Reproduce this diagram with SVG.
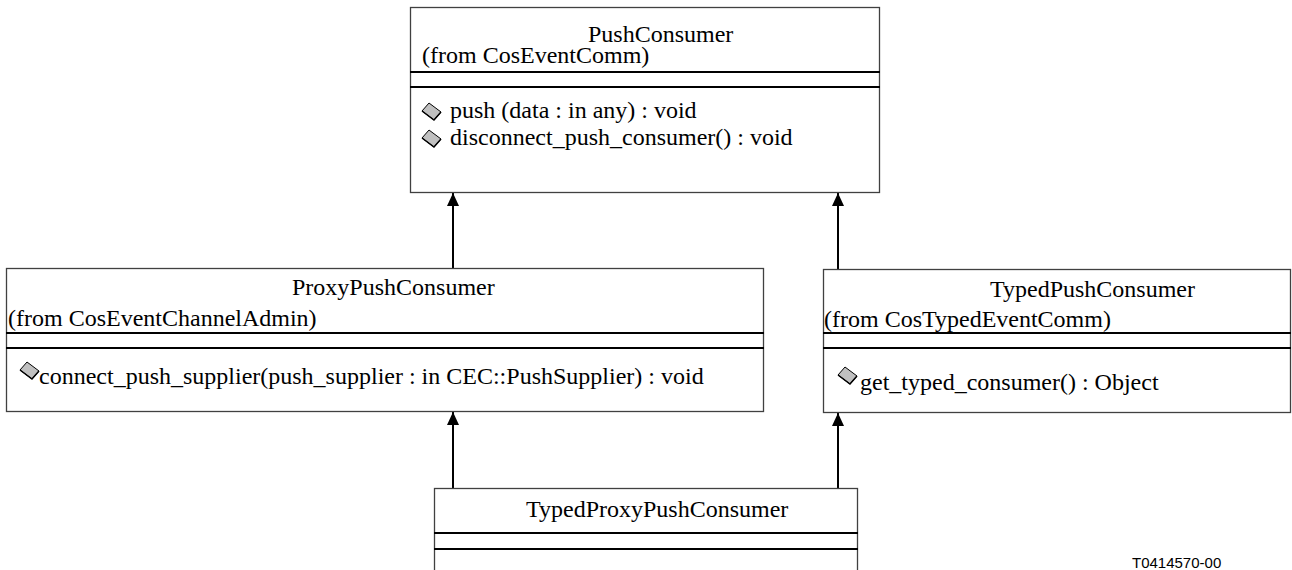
<svg xmlns="http://www.w3.org/2000/svg" xmlns:xlink="http://www.w3.org/1999/xlink" width="1292" height="570" viewBox="0 0 1292 570">
<style>
.box{fill:#fff;stroke:#404040;stroke-width:1.3}
.sep{stroke:#000;stroke-width:2.2}
.t{font-size:24px;fill:#000}
.con{stroke:#000;stroke-width:2;fill:none}
.dia{fill:#c0c0c0;stroke:#000;stroke-width:1}
.code{font-size:15px;fill:#000}
</style>
<defs>
<marker id="arr" markerWidth="13" markerHeight="12" refX="13" refY="6" orient="auto" markerUnits="userSpaceOnUse" viewBox="0 0 13 12" overflow="visible">
<path d="M0,0 L13,6 L0,12 Z" fill="#000"/>
</marker>
<g id="dm">
<polygon class="dia" points="0,0 7,-8 19,1 12,9"/>
<polyline points="0,0 12,9 19,1" fill="none" stroke="#000" stroke-width="1.5"/>
</g>
</defs>
<g id="connectors">
<line class="con" x1="453" y1="268" x2="453" y2="193" marker-end="url(#arr)"/>
<line class="con" x1="838" y1="269" x2="838" y2="193" marker-end="url(#arr)"/>
<line class="con" x1="453" y1="488" x2="453" y2="412" marker-end="url(#arr)"/>
<line class="con" x1="838" y1="488" x2="838" y2="413" marker-end="url(#arr)"/>
</g>
<g id="PushConsumer" font-family="Liberation Serif, Times New Roman, serif">
<rect class="box" x="410.5" y="7.5" width="469" height="185"/>
<line class="sep" x1="410" y1="72" x2="880" y2="72"/>
<line class="sep" x1="410" y1="87" x2="880" y2="87"/>
<text class="t" x="588" y="42">PushConsumer</text>
<text class="t" x="422" y="63">(from CosEventComm)</text>
<use xlink:href="#dm" x="422" y="111"/>
<text class="t" x="450" y="118">push (data : in any) : void</text>
<use xlink:href="#dm" x="422" y="138"/>
<text class="t" x="450" y="145">disconnect_push_consumer() : void</text>
</g>
<g id="ProxyPushConsumer" font-family="Liberation Serif, Times New Roman, serif">
<rect class="box" x="6.5" y="268.5" width="757" height="143"/>
<line class="sep" x1="6" y1="333" x2="764" y2="333"/>
<line class="sep" x1="6" y1="348" x2="764" y2="348"/>
<text class="t" x="292" y="295">ProxyPushConsumer</text>
<text class="t" x="8" y="326">(from CosEventChannelAdmin)</text>
<use xlink:href="#dm" x="20" y="370"/>
<text class="t" x="39" y="384">connect_push_supplier(push_supplier : in CEC::PushSupplier) : void</text>
</g>
<g id="TypedPushConsumer" font-family="Liberation Serif, Times New Roman, serif">
<rect class="box" x="823.5" y="269.5" width="467" height="143"/>
<line class="sep" x1="823" y1="333" x2="1291" y2="333"/>
<line class="sep" x1="823" y1="348" x2="1291" y2="348"/>
<text class="t" x="990" y="297">TypedPushConsumer</text>
<text class="t" x="824" y="327">(from CosTypedEventComm)</text>
<use xlink:href="#dm" x="838" y="375"/>
<text class="t" x="860" y="390">get_typed_consumer() : Object</text>
</g>
<g id="TypedProxyPushConsumer" font-family="Liberation Serif, Times New Roman, serif">
<rect class="box" x="434.5" y="488.5" width="423" height="100"/>
<line class="sep" x1="434" y1="533" x2="858" y2="533"/>
<line class="sep" x1="434" y1="549" x2="858" y2="549"/>
<text class="t" x="526" y="517">TypedProxyPushConsumer</text>
</g>
<text class="code" x="1132" y="568" font-family="Liberation Sans, Arial, sans-serif">T0414570-00</text>
</svg>
